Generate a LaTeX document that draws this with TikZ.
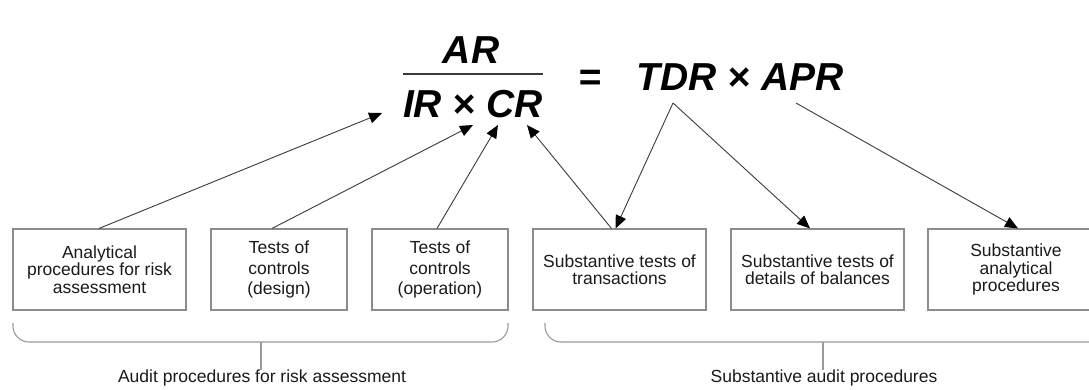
\documentclass[tikz,border=0pt]{standalone}
\usepackage{fontspec}
\setmainfont{Liberation Sans}
\usetikzlibrary{arrows.meta}
\definecolor{boxgrey}{HTML}{8C8C8C}
\definecolor{linegrey}{HTML}{3A3A3A}
\definecolor{bracegrey}{HTML}{9A9A9A}
\definecolor{txt}{HTML}{1A1A1A}
\begin{document}
\begin{tikzpicture}[x=1pt,y=-1pt,
  box/.style={draw=boxgrey, line width=1.1pt, inner sep=0pt, align=center, text=txt, minimum height=81pt},
  fsA/.style={font=\fontsize{17.5}{17.5}\selectfont},
  fsB/.style={font=\fontsize{17.5}{20.5}\selectfont},
  fsC/.style={font=\fontsize{17.5}{16.5}\selectfont},
  formula/.style={font=\fontsize{39}{39}\selectfont\bfseries\itshape, inner sep=0pt, anchor=base},
  arr/.style={draw=linegrey, line width=0.9pt, -{Triangle[length=13pt,width=11pt,color=black]}},
  brace/.style={draw=bracegrey, line width=1.1pt, rounded corners=16pt},
  stem/.style={draw=bracegrey, line width=1.1pt},
  grouplabel/.style={font=\fontsize{17.5}{17.5}\selectfont, text=txt, inner sep=0pt}
]
\useasboundingbox (0,0) rectangle (1089,389);
\clip (0,0) rectangle (1089,389);

% formula
\node[formula] (AR) at (471,63) {AR};
\node[formula] (IRCR) at (473,117) {IR × CR};
\node[formula] (eq) at (590,90) {=};
\node[formula] (TDRAPR) at (740,90) {TDR × APR};
\coordinate (fl) at (403,74);
\coordinate (fr) at (543,74);
\draw[draw=linegrey, line width=1.6pt] (fl) -- (fr);

% arrow anchor points on the formula
\coordinate (irL) at (382,113);
\coordinate (xB) at (473,125);
\coordinate (cB) at (498,125);
\coordinate (rB) at (527,125);
\coordinate (tdr) at (673,103);
\coordinate (apr) at (796,103);

% boxes
\node[box, fsA, minimum width=173pt] (b1) at (99.5,269.5) {Analytical\\procedures for risk\\assessment};
\node[box, fsB, minimum width=136pt] (b2) at (279,269.5) {Tests of\\controls\\(design)};
\node[box, fsB, minimum width=136pt] (b3) at (440,269.5) {Tests of\\controls\\(operation)};
\node[box, fsC, minimum width=173pt] (b4) at (619.5,269.5) {Substantive tests of\\transactions};
\node[box, fsC, minimum width=173pt] (b5) at (817.5,269.5) {Substantive tests of\\details of balances};
\node[box, fsA, minimum width=176pt] (b6) at (1016,269.5) {Substantive\\analytical\\procedures};

% arrows
\draw[arr] ([xshift=-0.5pt]b1.north) -- (irL);
\draw[arr] ([xshift=-7pt]b2.north) -- (xB);
\draw[arr] ([xshift=-3pt]b3.north) -- (cB);
\draw[arr] ([xshift=-8pt]b4.north) -- (rB);
\draw[arr] (tdr) -- ([xshift=-4pt]b4.north);
\draw[arr] (tdr) -- ([xshift=-7.5pt]b5.north);
\draw[arr] (apr) -- ([xshift=2pt]b6.north);

% braces
\coordinate (lbL) at (13,323);
\coordinate (lbR) at (508,323);
\coordinate (lbM) at (261,342);
\coordinate (rbL) at (545,323);
\coordinate (rbR) at (1110,342);
\coordinate (rbM) at (823,342);
\draw[brace] (lbL) |- (lbM) -| (lbR);
\draw[brace] (rbL) |- (rbR);

\node[grouplabel] (g1) at (262,378) {Audit procedures for risk assessment};
\node[grouplabel] (g2) at (824,378) {Substantive audit procedures};
\draw[stem] (lbM) -- (lbM |- g1.north);
\draw[stem] (rbM) -- (rbM |- g2.north);
\end{tikzpicture}
\end{document}
